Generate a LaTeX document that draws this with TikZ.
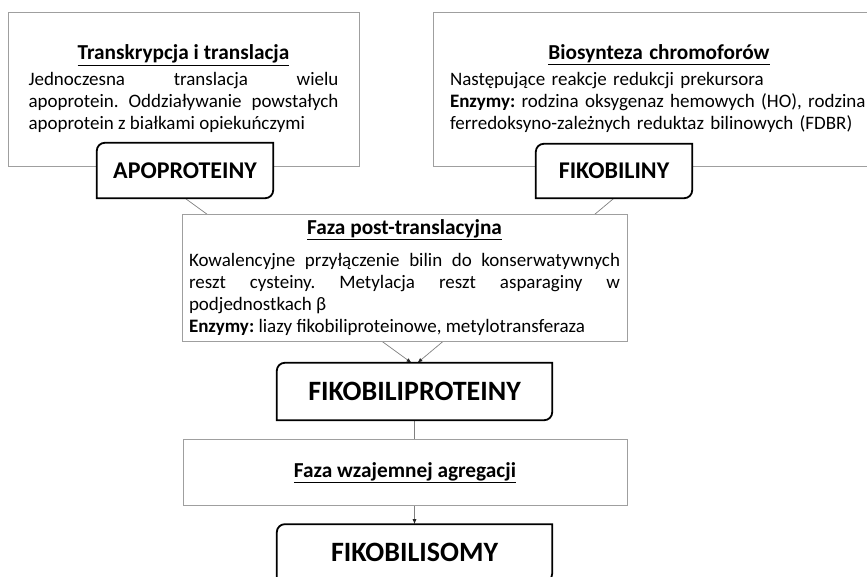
\documentclass[tikz,border=0pt]{standalone}
\usepackage{fontspec}
\setmainfont{Carlito}
\usetikzlibrary{positioning,arrows.meta,backgrounds}
\frenchspacing

\newcommand{\boxtitle}[2][4pt]{{\centering\fontsize{21.3}{25}\selectfont\underline{\textbf{#2}}\par}\vspace{#1}}
\newcommand{\stageframe}[1]{%
  \draw[stageline] ([xshift=8pt]#1.north west) -- (#1.north east) -- ([yshift=8pt]#1.south east)
    arc[start angle=0,end angle=-90,radius=8pt] -- (#1.south west) -- ([yshift=-8pt]#1.north west)
    arc[start angle=180,end angle=90,radius=8pt] -- cycle;}

\begin{document}
\begin{tikzpicture}[x=1pt,y=1pt,
  infobox/.style={draw=gray!75, fill=white, inner ysep=0pt, font=\fontsize{19}{22}\selectfont},
  stagenode/.style={fill=white, inner sep=0pt, font=\bfseries\fontsize{24}{28}\selectfont},
  stageline/.style={draw=black, line width=1.8pt},
  link/.style={draw=gray, line width=0.7pt},
  >={Latex[length=5pt,width=4pt,color=black!85]}]
\useasboundingbox (0,0) rectangle (867,576);
%Nodes
\node[infobox, align=justify, minimum width=351pt, minimum height=154pt, text width=310pt, inner xsep=20.5pt] (transl) at (183.5,487)
  {\boxtitle{Transkrypcja i translacja}Jednoczesna translacja wielu\linebreak apoprotein. Oddziaływanie powstałych\linebreak apoprotein z białkami opiekuńczymi};
\node[infobox, align=left, minimum width=452pt, minimum height=154pt, text width=418pt, inner xsep=17pt] (biosynt) at (659,487)
  {\boxtitle{Biosynteza chromoforów}Następujące reakcje redukcji prekursora\\
   \textbf{Enzymy:} rodzina oksygenaz hemowych (HO), rodzina\\
   ferredoksyno-zależnych reduktaz bilinowych (FDBR)};
\node[stagenode, minimum width=176pt, minimum height=55pt] (apo) at (185,405.5) {APOPROTEINY};
\node[stagenode, minimum width=156pt, minimum height=54pt] (fbil) at (614,405) {FIKOBILINY};
\stageframe{apo}
\stageframe{fbil}

\node[infobox, align=justify, minimum width=445pt, minimum height=127pt, text width=431pt, inner xsep=7pt] (posttr) at (404.5,298.5)
  {\boxtitle[10pt]{Faza post-translacyjna}Kowalencyjne przyłączenie bilin do konserwatywnych\linebreak reszt cysteiny. Metylacja reszt asparaginy w\linebreak podjednostkach β\\
   \textbf{Enzymy:} liazy fikobiliproteinowe, metylotransferaza};
\node[stagenode, font=\bfseries\fontsize{28}{32}\selectfont, minimum width=275pt, minimum height=57pt] (fbp) at (414.5,184.5) {FIKOBILIPROTEINY};
\node[infobox, align=center, font=\fontsize{21.3}{25}\selectfont, minimum width=444pt, minimum height=66pt] (agreg) [below=19pt of fbp, xshift=-9.5pt] {\underline{\textbf{Faza wzajemnej agregacji}}};
\node[stagenode, font=\bfseries\fontsize{28}{32}\selectfont, minimum width=275pt, minimum height=57pt] (fbs) [below=104pt of fbp] {FIKOBILISOMY};
\stageframe{fbp}
\stageframe{fbs}

\begin{pgfonlayer}{background}
\draw[link,->] (apo.south) -- ([xshift=-3pt]fbp.north);
\draw[link,->] (fbil.south) -- ([xshift=3pt]fbp.north);
\draw[link,->] (fbp.south) -- (fbs.north);
\end{pgfonlayer}
\end{tikzpicture}
\end{document}
